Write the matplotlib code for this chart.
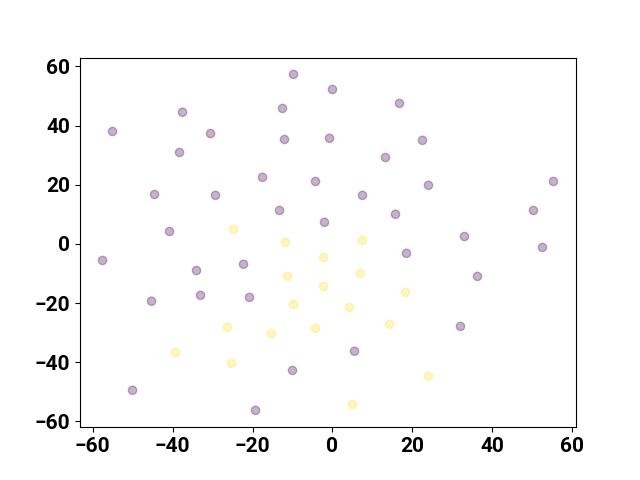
import numpy as np
import matplotlib.pyplot as plt

plt.rcParams['font.family'] = ['Roboto', 'DejaVu Sans']

# class 0 points (purple)
x0 = [-9.75, 0, -37.5, -12.5, 16.75, -55, -30.5, -12, -0.75, 22.5, -38.25, 13.25,
      -17.5, -4.25, 24, 55.25, -44.5, -29.25, 7.5, -13.25, 15.75, 50.25, -2, -40.75,
      33, 52.5, -57.5, -22.25, 18.5, -34, 36.25, -45.25, -33, -20.75, 32, 5.5, -10,
      -50, -19.25]
y0 = [57.3, 52.2, 44.5, 45.8, 47.5, 38, 37.3, 35.3, 35.7, 35, 30.9, 29.2,
      22.5, 21.1, 19.8, 21.1, 16.7, 16.4, 16.4, 11.3, 10, 11.3, 7.3, 4.2,
      2.5, -1.2, -5.6, -6.9, -3.2, -9, -11, -19.4, -17.4, -18.1, -27.9, -36.3, -42.8,
      -49.5, -56.3]

# class 1 points (yellow)
x1 = [-24.75, -11.75, 7.5, -2.25, -11.25, 7, -2.25, -9.75, 18.25, 4.25, -26.25,
      -15.25, -4.25, 14.25, -39.25, -25.25, 24, 5]
y1 = [4.9, 0.5, 1.2, -4.6, -11, -10, -14.4, -20.5, -16.4, -21.5, -28.2,
      -30.3, -28.6, -27.2, -36.7, -40.4, -44.8, -54.3]

x = np.array(x0 + x1)
y = np.array(y0 + y1)
labels = np.array([0] * len(x0) + [1] * len(x1))

fig, ax = plt.subplots(figsize=(6.4, 4.8), dpi=100)
ax.scatter(x, y, c=labels, cmap='viridis', alpha=0.3)

for lbl in ax.get_xticklabels() + ax.get_yticklabels():
    lbl.set_fontsize(15)
    lbl.set_fontweight('bold')

fig.savefig('out.png')
